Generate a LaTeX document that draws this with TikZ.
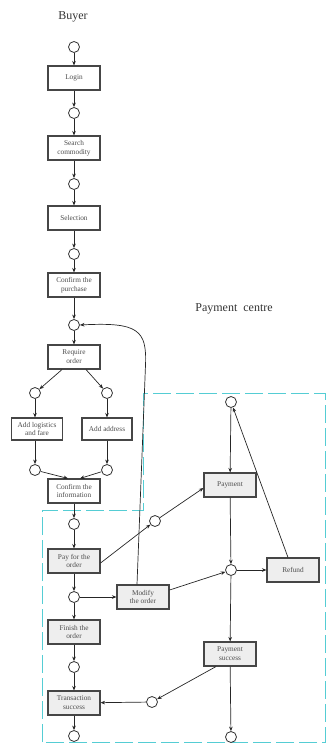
\documentclass[tikz,border=0pt]{standalone}
\usepackage{fontspec}
\setmainfont{Liberation Serif}
\usetikzlibrary{arrows.meta}
\definecolor{dashcyan}{RGB}{85,205,212}
\definecolor{boxline}{RGB}{70,70,70}
\tikzset{
  place/.style={circle,draw=black!80,line width=0.8pt,minimum size=11pt,inner sep=0pt,fill=white},
  act/.style={draw=boxline,line width=1.1pt,minimum width=52pt,minimum height=24pt,inner sep=1pt,
    align=center,font=\fontsize{7.3}{8.8}\selectfont,text=black!70,fill=white},
  shaded/.style={act,fill=gray!13},
  arr/.style={-{Stealth[length=4.5pt,width=3.6pt]},line width=0.7pt,draw=black!85},
  title/.style={font=\fontsize{12}{14}\selectfont,text=black!80},
}

\begin{document}
\begin{tikzpicture}[x=1pt,y=-1pt]
\useasboundingbox (0,0) rectangle (328,744);
% payment centre boundary
\draw [dashcyan,line width=0.9pt,dash pattern=on 18pt off 5pt]
  (42,742) -- (42,510) -- (143,510) -- (143,393) -- (325,393) -- (325,742) -- cycle;

% buyer lane
\node[title] (buyer) at (73,17) {Buyer};
\node[place] (b0) at (74,47) {};
\node[act] (login) at (74,78) {Login};
\node[place] (b1) at (74,113) {};
\node[act] (search) at (74,148) {Search\\commodity};
\node[place] (b2) at (74,184) {};
\node[act] (select) at (74,218) {Selection};
\node[place] (b3) at (74,254) {};
\node[act] (confirmp) at (74,285) {Confirm the\\purchase};
\node[place] (b4) at (74,325) {};
\node[act] (require) at (74,357) {Require\\order};
\node[place] (bl1) at (35,393) {};
\node[place] (br1) at (107,393) {};
\node[act,minimum width=51pt,minimum height=22pt] (logist) at (37,429) {Add logistics\\and fare};
\node[act,minimum width=50pt,minimum height=22pt] (addr) at (107,429) {Add address};
\node[place] (bl2) at (35,470) {};
\node[place] (br2) at (107,470) {};
\node[act] (confirmi) at (74,491) {Confirm the\\information};
\node[place] (b5) at (74,524) {};
\node[shaded] (pay) at (74,561) {Pay for the\\order};
\node[place] (b6) at (74,597) {};
\node[shaded] (modify) at (143,597) {Modify\\the order};
\node[shaded] (finish) at (74,632) {Finish the\\order};
\node[place] (b7) at (74,667) {};
\node[shaded] (trans) at (74,703) {Transaction\\success};
\node[place] (b8) at (74,736) {};

% payment centre lane
\node[title] (centre) at (234,309) {Payment\ \ centre};
\node[place] (p0) at (231,402) {};
\node[shaded] (payment) at (230,485) {Payment};
\node[place] (p1) at (231,570) {};
\node[shaded] (refund) at (293,570) {Refund};
\node[shaded] (psucc) at (230,654) {Payment\\success};
\node[place] (p2) at (231,737) {};
\node[place] (m1) at (155,521) {};
\node[place] (m2) at (152,702) {};

% buyer flow
\draw[arr] (b0) -- (login);
\draw[arr] (login) -- (b1);
\draw[arr] (b1) -- (search);
\draw[arr] (search) -- (b2);
\draw[arr] (b2) -- (select);
\draw[arr] (select) -- (b3);
\draw[arr] (b3) -- (confirmp);
\draw[arr] (confirmp) -- (b4);
\draw[arr] (b4) -- (require);
\draw[arr] ([xshift=-12pt]require.south) -- (bl1);
\draw[arr] ([xshift=12pt]require.south) -- (br1);
\draw[arr] (bl1) -- (bl1 |- logist.north);
\draw[arr] (br1) -- (addr);
\draw[arr] (bl2 |- logist.south) -- (bl2);
\draw[arr] (addr) -- (br2);
\draw[arr] (bl2) -- ([xshift=-6pt]confirmi.north);
\draw[arr] (br2) -- ([xshift=6pt]confirmi.north);
\draw[arr] (confirmi) -- (b5);
\draw[arr] (b5) -- (pay);
\draw[arr] (pay) -- (b6);
\draw[arr] (b6) -- (finish);
\draw[arr] (b6) -- (modify);
\draw[arr] (finish) -- (b7);
\draw[arr] (b7) -- (trans);
\draw[arr] (trans) -- (b8);

% payment flow
\draw[arr] ([yshift=-2pt]pay.east) -- (m1);
\draw[arr] (m1) -- ([yshift=-3pt]payment.west);
\draw[arr] (p0) -- (payment);
\draw[arr] (payment) -- (p1);
\draw[arr] ([yshift=7pt]modify.east) -- (p1);
\draw[arr] (p1) -- (refund);
\draw[arr] ([xshift=-5pt]refund.north) -- (p0);
\draw[arr] (p1) -- (psucc);
\draw[arr] (psucc) -- (p2);
\draw[arr] ([xshift=-14pt]psucc.south) -- (m2);
\draw[arr] (m2) -- (trans);
\draw[arr] ([xshift=-6pt]modify.north) -- (145.5,365)
  .. controls (147,330) and (138,322) .. (b4.east);
\end{tikzpicture}
\end{document}
